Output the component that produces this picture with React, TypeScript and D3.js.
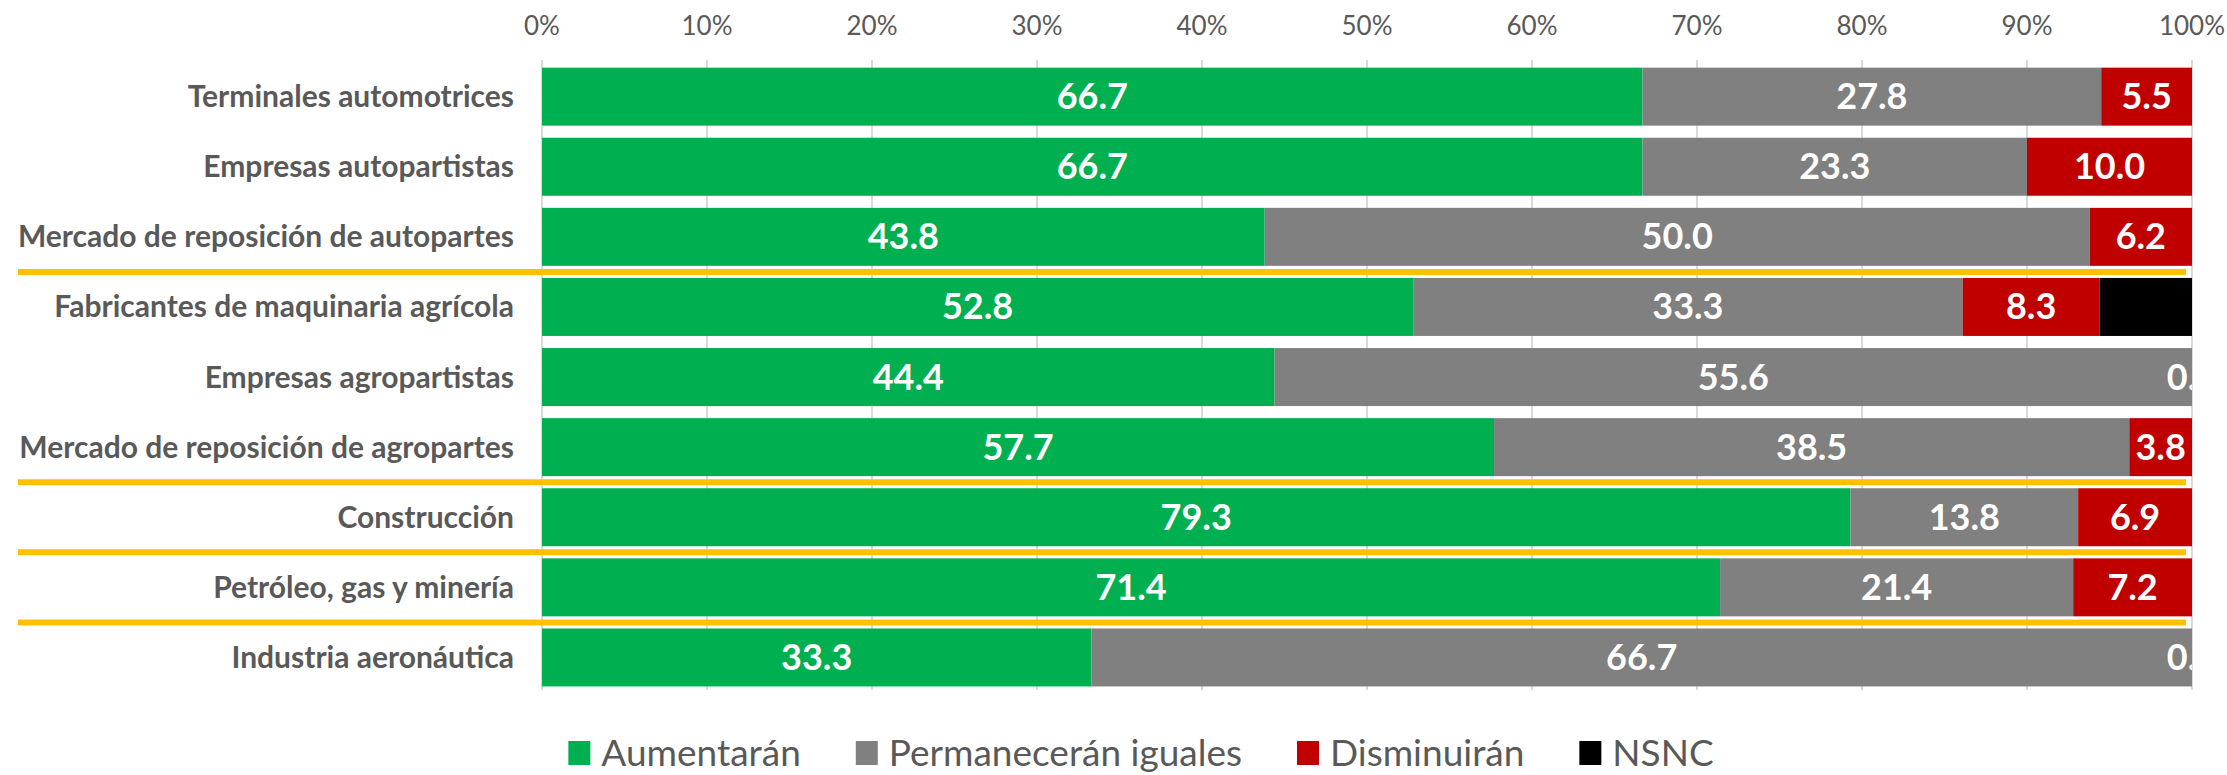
import React from "react";
import * as d3 from "d3";

const categories = [
  "Terminales automotrices",
  "Empresas autopartistas",
  "Mercado de reposición de autopartes",
  "Fabricantes de maquinaria agrícola",
  "Empresas agropartistas",
  "Mercado de reposición de agropartes",
  "Construcción",
  "Petróleo, gas y minería",
  "Industria aeronáutica",
];

const seriesNames = ["Aumentarán", "Permanecerán iguales", "Disminuirán", "NSNC"];
const seriesColors = ["#00B050", "#808080", "#C00000", "#000000"];

const aumentaran = [66.7, 66.7, 43.8, 52.8, 44.4, 57.7, 79.3, 71.4, 33.3];
const permaneceran = [27.8, 23.3, 50.0, 33.3, 55.6, 38.5, 13.8, 21.4, 66.7];
const disminuiran = [5.5, 10.0, 6.2, 8.3, 0.0, 3.8, 6.9, 7.2, 0.0];
const nsnc = [0, 0, 0, 5.6, 0, 0, 0, 0, 0];

const tickValues = [0, 10, 20, 30, 40, 50, 60, 70, 80, 90, 100];
// separators drawn after these category indices
const separatorsAfter = [2, 5, 6, 7];

const W = 2227;
const H = 775;
const FONT = "Lato, 'Open Sans', sans-serif";

function measure(text: string, font: string): number {
  const c = document.createElement("canvas");
  const ctx = c.getContext("2d")!;
  ctx.font = font;
  return ctx.measureText(text).width;
}

export default function App() {
  const x = d3.scaleLinear().domain([0, 100]).range([542, 2192]);
  const y = d3
    .scaleBand<string>()
    .domain(categories)
    .range([61.6, 692.5])
    .paddingInner(0.1726)
    .paddingOuter(0.0863);

  const series = [aumentaran, permaneceran, disminuiran, nsnc];
  const rows = categories.map((c, i) => {
    let acc = 0;
    return series.map((s, k) => {
      const v = s[i];
      const seg = { k, x0: acc, x1: acc + v, v };
      acc += v;
      return seg;
    });
  });

  const bw = y.bandwidth();
  const step = y.step();

  // legend layout
  const legendFont = `400 37px Lato`;
  const sq = 22;
  const gapSqText = 11;
  const gapItems = 55;
  const widths = seriesNames.map((n) => measure(n, legendFont));
  const itemW = widths.map((w) => sq + gapSqText + w);
  const total = itemW.reduce((a, b) => a + b, 0) + gapItems * (seriesNames.length - 1);
  const legendCenter = 1141;
  let lx = legendCenter - total / 2;
  const legendPos = itemW.map((w) => {
    const p = lx;
    lx += w + gapItems;
    return p;
  });
  const legendY = 753;

  return (
    <svg
      width={W}
      height={H}
      style={{ position: "absolute", left: 0, top: 0, background: "#fff" }}
      fontFamily={FONT}
    >
      <defs>
        <clipPath id="plotClip">
          <rect x={x(0)} y={0} width={x(100) - x(0)} height={H} />
        </clipPath>
      </defs>
      <rect x={0} y={0} width={W} height={H} fill="#fff" />

      {/* gridlines */}
      {tickValues.map((t) => (
        <line
          key={"g" + t}
          x1={x(t)}
          x2={x(t)}
          y1={60}
          y2={690}
          stroke="#D9D9D9"
          strokeWidth={2}
        />
      ))}

      {/* tick labels */}
      {tickValues.map((t) => (
        <text
          key={"t" + t}
          x={x(t)}
          y={35}
          textAnchor="middle"
          fontSize={26}
          fill="#595959"
        >
          {t + "%"}
        </text>
      ))}

      {/* bars */}
      {rows.map((segs, i) =>
        segs.map((s) =>
          s.v > 0 ? (
            <rect
              key={`b${i}-${s.k}`}
              x={x(s.x0)}
              y={y(categories[i])!}
              width={x(s.x1) - x(s.x0)}
              height={bw}
              fill={seriesColors[s.k]}
            />
          ) : null
        )
      )}

      {/* bar labels */}
      <g clipPath="url(#plotClip)">
        {rows.map((segs, i) =>
          segs
            .filter((s) => s.k < 3)
            .map((s) => (
              <text
                key={`l${i}-${s.k}`}
                x={(x(s.x0) + x(s.x1)) / 2}
                y={y(categories[i])! + bw / 2 + 12.5}
                textAnchor="middle"
                fontSize={36}
                fontWeight={700}
                fill="#FFFFFF"
              >
                {s.v.toFixed(1)}
              </text>
            ))
        )}
      </g>

      {/* category labels */}
      {categories.map((c) => (
        <text
          key={"c" + c}
          x={514}
          y={y(c)! + bw / 2 + 10.5}
          textAnchor="end"
          fontSize={30}
          fontWeight={700}
          fill="#595959"
        >
          {c}
        </text>
      ))}

      {/* separators */}
      {separatorsAfter.map((i) => {
        const yy = y(categories[i])! + bw + (step - bw) / 2;
        return (
          <line
            key={"s" + i}
            x1={18}
            x2={2186}
            y1={yy}
            y2={yy}
            stroke="#FFC000"
            strokeWidth={6}
          />
        );
      })}

      {/* legend */}
      {seriesNames.map((n, k) => (
        <g key={"lg" + n} transform={`translate(${legendPos[k]},${legendY})`}>
          <rect x={0} y={-12} width={sq} height={24} fill={seriesColors[k]} />
          <text x={sq + gapSqText} y={13} fontSize={37} fill="#595959">
            {n}
          </text>
        </g>
      ))}
    </svg>
  );
}
